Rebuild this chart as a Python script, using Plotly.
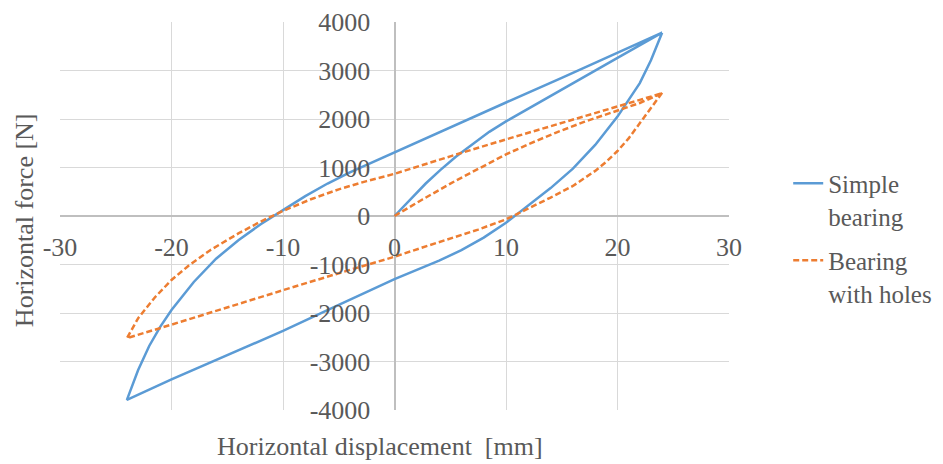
import plotly.graph_objects as go

# Simple bearing: virgin loading, unloading, reloading
simple_disp = [0, 1.4, 2.8, 4.1, 5.5, 7, 8.5, 10, 12, 15, 20, 24,
               20, 15, 10, 5, 0, -2, -4, -6, -8, -10, -12, -14, -16, -18, -20, -21, -22, -23, -24,
               -20, -15, -10, -5, 0, 2, 4, 6, 8, 10, 12, 14, 16, 18, 20, 22, 23, 24]
simple_force = [0, 340, 670, 945, 1220, 1480, 1735, 1950, 2215, 2610, 3260, 3780,
                3360, 2850, 2340, 1830, 1315, 1120, 900, 670, 410, 120, -170, -500, -880, -1360, -1940, -2280, -2680, -3180, -3790,
                -3370, -2870, -2370, -1830, -1300, -1110, -920, -705, -445, -140, 215, 575, 975, 1465, 2050, 2740, 3210, 3780]

# Bearing with holes
holes_disp = [0, 2.5, 5.5, 8.5, 10, 12, 14.5, 17, 20, 22, 24,
              20, 15, 10, 5, 0, -2.5, -5, -7.5, -10, -12, -14, -16.5, -18.5, -20, -21.5, -23, -24,
              -20, -15, -10, -5, 0, 2.5, 5, 7.5, 10, 12, 14, 16, 18, 19, 20, 21, 22, 23, 24]
holes_force = [0, 340, 730, 1100, 1270, 1480, 1720, 1940, 2170, 2330, 2530,
               2260, 1920, 1580, 1230, 870, 720, 550, 345, 105, -115, -360, -700, -1030, -1320, -1680, -2110, -2520,
               -2240, -1880, -1530, -1180, -840, -650, -460, -280, -70, 150, 380, 620, 930, 1120, 1340, 1600, 1910, 2230, 2540]

x_ticks = [-30, -20, -10, 0, 10, 20, 30]
y_ticks = [-4000, -3000, -2000, -1000, 0, 1000, 2000, 3000, 4000]

series_names = ["Simple<br>bearing", "Bearing<br>with holes"]
x_title = "Horizontal displacement  [mm]"
y_title = "Horizontal force [N]"

font = dict(family="Liberation Serif, Times New Roman, serif", size=26, color="#595959")
legend_font = dict(family="Liberation Serif, Times New Roman, serif", size=25, color="#595959")

fig = go.Figure()
fig.add_trace(go.Scatter(x=simple_disp, y=simple_force, mode="lines", name=series_names[0],
                         legendgroup="a", line=dict(color="#5B9BD5", width=2.5)))
fig.add_trace(go.Scatter(x=holes_disp, y=holes_force, mode="lines", name=series_names[1],
                         legendgroup="b", line=dict(color="#ED7D31", width=2.5, dash="6px,3px")))

fig.update_layout(
    width=935, height=456,
    margin=dict(l=52, r=214, t=14, b=54, autoexpand=False),
    plot_bgcolor="white", paper_bgcolor="white",
    font=font,
    showlegend=True,
    legend=dict(x=1.0885, xanchor="left", y=0.643, yanchor="top", valign="top",
                traceorder="grouped", tracegroupgap=9,
                font=legend_font, bgcolor="rgba(0,0,0,0)"),
    xaxis=dict(range=[-30, 30], tickvals=x_ticks, ticktext=[str(v) for v in x_ticks],
               anchor="free", position=0.5, side="bottom",
               showgrid=True, gridcolor="#D9D9D9", gridwidth=1.3,
               zeroline=True, zerolinecolor="#BFBFBF", zerolinewidth=2,
               ticks="outside", ticklen=8, tickcolor="rgba(0,0,0,0)",
               showline=False, tickfont=font),
    yaxis=dict(range=[-4000, 4000], tickvals=y_ticks, ticktext=[str(v) for v in y_ticks],
               anchor="free", position=0.5, side="left",
               showgrid=True, gridcolor="#D9D9D9", gridwidth=1.3,
               zeroline=True, zerolinecolor="#BFBFBF", zerolinewidth=2,
               ticks="outside", ticklen=19, tickcolor="rgba(0,0,0,0)",
               showline=False, tickfont=font),
    annotations=[
        dict(text=x_title, xref="paper", yref="paper", x=0.478, y=-0.093,
             xanchor="center", yanchor="middle", showarrow=False, font=font),
        dict(text=y_title, xref="paper", yref="paper", x=-0.054, y=0.489,
             xanchor="center", yanchor="middle", showarrow=False, font=font, textangle=-90),
    ],
)

fig.write_html("out.html")
